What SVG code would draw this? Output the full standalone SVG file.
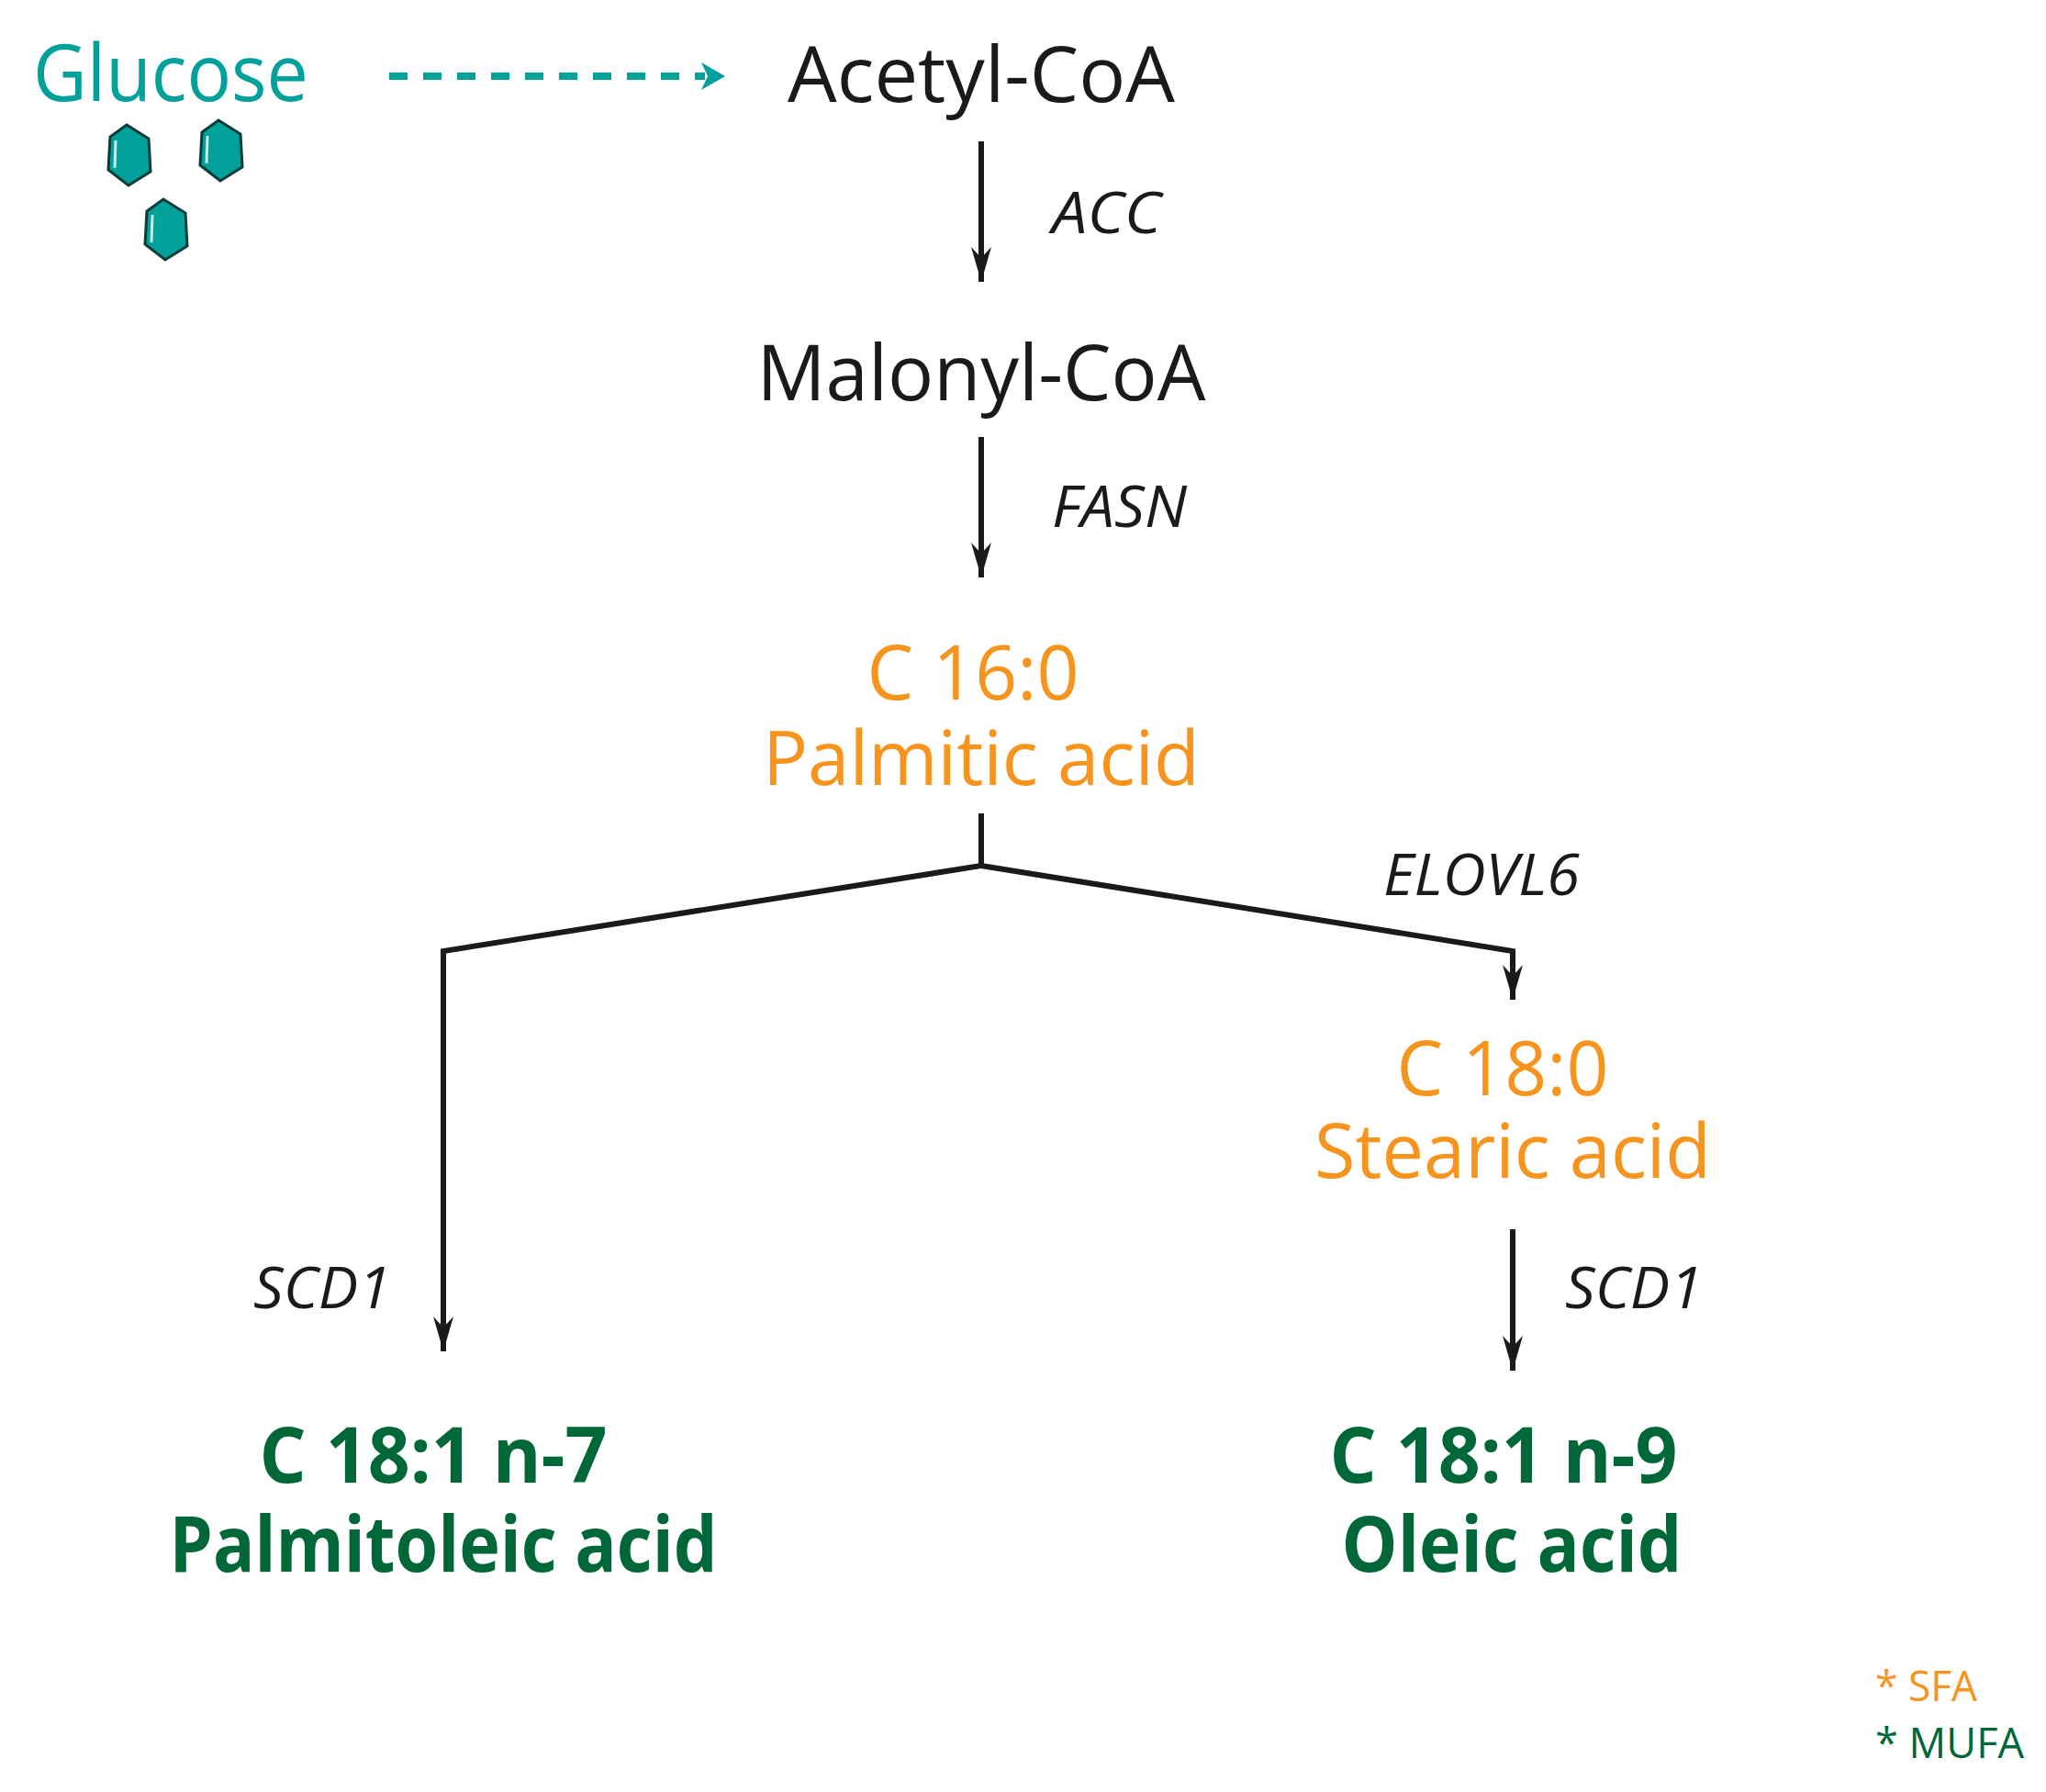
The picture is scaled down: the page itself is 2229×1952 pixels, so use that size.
<svg xmlns="http://www.w3.org/2000/svg" width="2229" height="1952" viewBox="0 0 2229 1952">
<style>
text{font-family:"Open Sans","Noto Sans",sans-serif}
.m{font-size:84px;fill:#1a1a1a;text-anchor:middle}
.e{font-size:62px;fill:#1a1a1a;font-style:italic}
.o{font-size:82px;fill:#f7941d;text-anchor:middle}
.g{font-size:84px;fill:#006838;font-weight:bold;text-anchor:middle}
.c{stroke:#1a1a1a;stroke-width:6;fill:none}
.hx{fill:#00a19a;stroke:#0b3b38;stroke-width:3}
.hl{fill:none;stroke:#bfeeea;stroke-width:3}
</style>
<defs>
<marker id="dn" viewBox="0 0 22 38" refX="11" refY="38" markerWidth="22" markerHeight="38" markerUnits="userSpaceOnUse" orient="0">
<path d="M0,0 L11,12 L22,0 L11,38 Z" fill="#1a1a1a"/>
</marker>
<g id="hex"><polygon class="hx" points="-8,-33 16,-18 18,18 -6,33 -28,16 -26,-20"/><polyline class="hl" points="-20,-16 -21,14"/></g>
</defs>
<rect width="2229" height="1952" fill="#fff"/>
<g id="glucose">
<text x="36" y="110" style="font-size:86px;fill:#00a19a" textLength="300" lengthAdjust="spacingAndGlyphs">Glucose</text>
<use href="#hex" x="146" y="169"/>
<use href="#hex" x="246" y="164"/>
<use href="#hex" x="186" y="250"/>
</g>
<g id="acetyl"><text class="m" x="1069" y="111" textLength="422" lengthAdjust="spacingAndGlyphs">Acetyl-CoA</text></g>
<g id="malonyl"><text class="m" x="1069" y="436" textLength="489" lengthAdjust="spacingAndGlyphs">Malonyl-CoA</text></g>
<g id="c160"><text class="o" x="1060" y="762" textLength="231" lengthAdjust="spacingAndGlyphs">C 16:0</text><text class="o" x="1069" y="855" textLength="476" lengthAdjust="spacingAndGlyphs">Palmitic acid</text></g>
<g id="c180"><text class="o" x="1637" y="1193" textLength="231" lengthAdjust="spacingAndGlyphs">C 18:0</text><text class="o" x="1648" y="1283" textLength="432" lengthAdjust="spacingAndGlyphs">Stearic acid</text></g>
<g id="c181n7"><text class="g" x="472" y="1615" textLength="379" lengthAdjust="spacingAndGlyphs">C 18:1 n-7</text><text class="g" x="483" y="1712" textLength="597" lengthAdjust="spacingAndGlyphs">Palmitoleic acid</text></g>
<g id="c181n9"><text class="g" x="1638" y="1615" textLength="379" lengthAdjust="spacingAndGlyphs">C 18:1 n-9</text><text class="g" x="1647" y="1712" textLength="371" lengthAdjust="spacingAndGlyphs">Oleic acid</text></g>
<g id="legend">
<text x="2043" y="1853" style="font-size:46px;fill:#f7941d" textLength="111" lengthAdjust="spacingAndGlyphs">* SFA</text>
<text x="2043" y="1915" style="font-size:46px;fill:#006838" textLength="162" lengthAdjust="spacingAndGlyphs">* MUFA</text>
</g>
<g id="connectors">
<line x1="424" y1="83" x2="768" y2="83" stroke="#00a19a" stroke-width="8" stroke-dasharray="20,17"/>
<path d="M764,68 L790,83 L764,98 L771,83 Z" fill="#00a19a"/>
<line class="c" x1="1069" y1="154" x2="1069" y2="307" marker-end="url(#dn)"/>
<line class="c" x1="1069" y1="476" x2="1069" y2="629" marker-end="url(#dn)"/>
<path class="c" d="M1069,886 L1069,943 L483,1036 L483,1472" marker-end="url(#dn)"/>
<path class="c" d="M1069,943 L1648,1036 L1648,1089" marker-end="url(#dn)"/>
<line class="c" x1="1648" y1="1339" x2="1648" y2="1493" marker-end="url(#dn)"/>
<text class="e" x="1146" y="254" textLength="119" lengthAdjust="spacingAndGlyphs">ACC</text>
<text class="e" x="1146" y="574" textLength="147" lengthAdjust="spacingAndGlyphs">FASN</text>
<text class="e" x="1507" y="975" textLength="214" lengthAdjust="spacingAndGlyphs">ELOVL6</text>
<text class="e" x="276" y="1425" textLength="150" lengthAdjust="spacingAndGlyphs">SCD1</text>
<text class="e" x="1705" y="1425" textLength="150" lengthAdjust="spacingAndGlyphs">SCD1</text>
</g>
</svg>
